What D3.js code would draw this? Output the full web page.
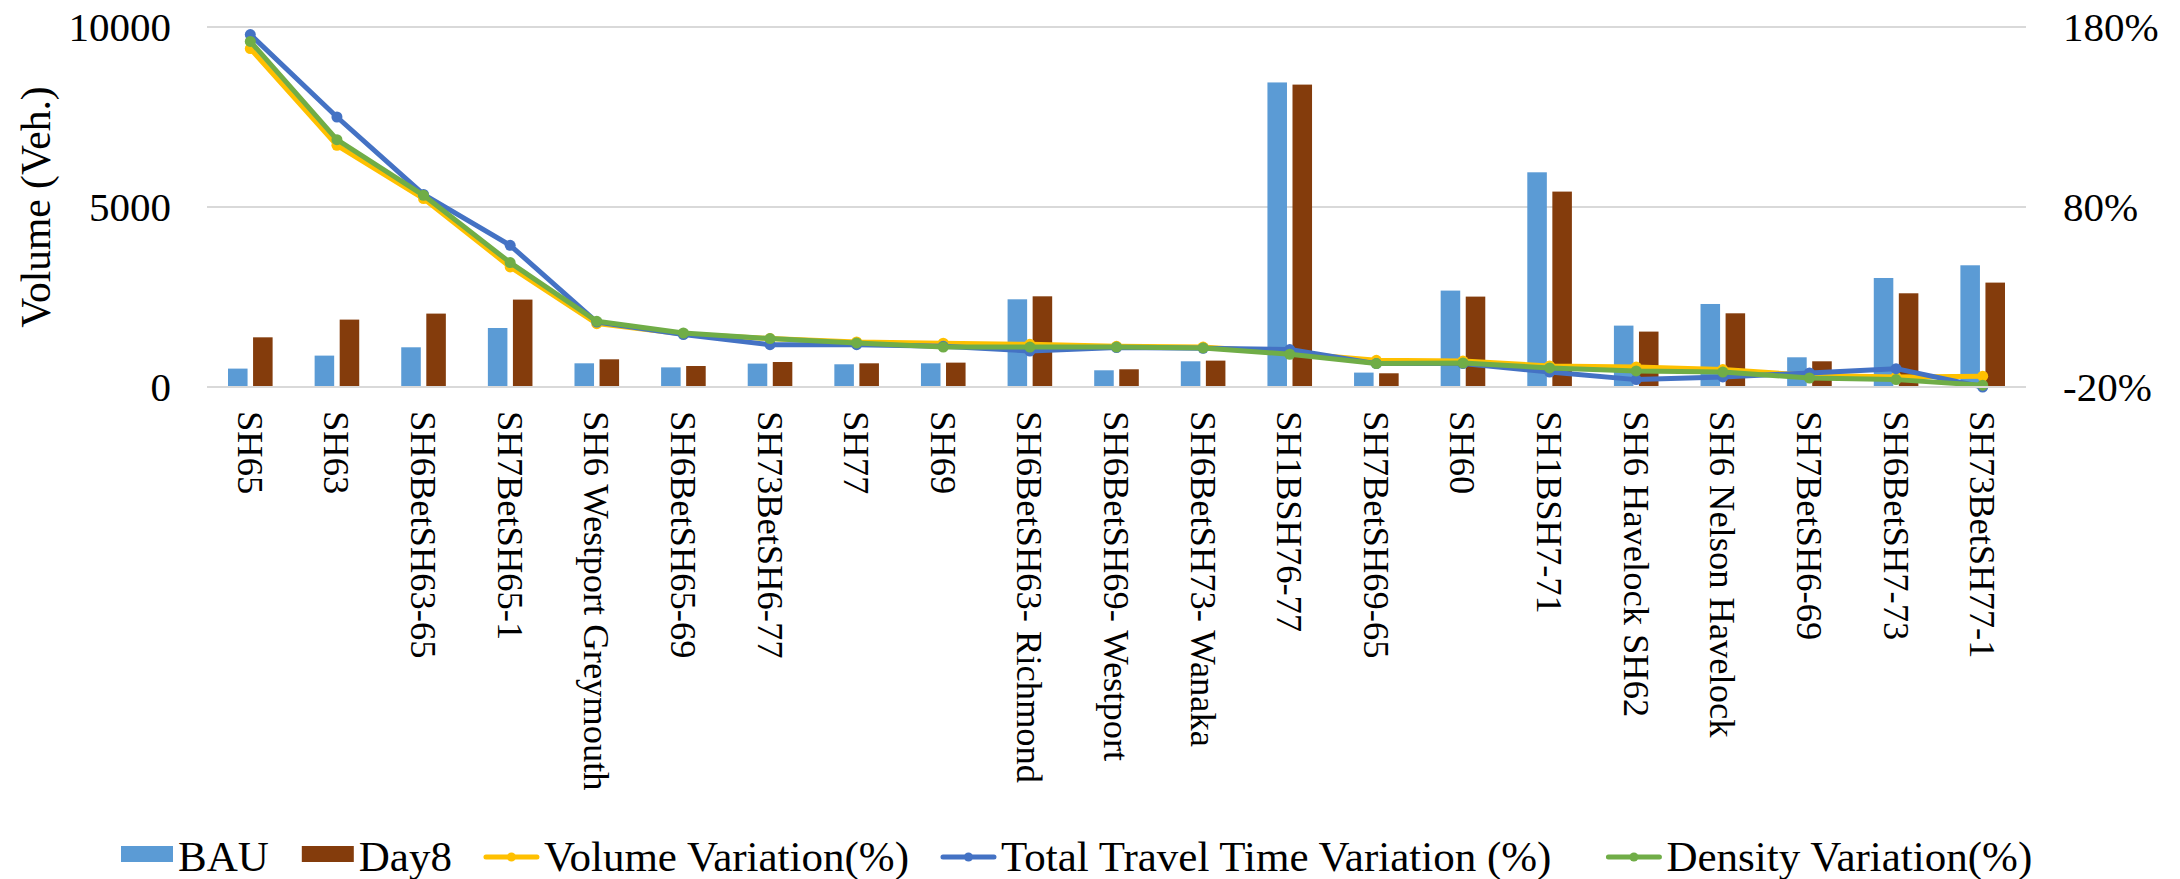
<!DOCTYPE html>
<html>
<head>
<meta charset="utf-8">
<script src="https://cdn.jsdelivr.net/npm/d3@7"></script>
<style>
  html, body { margin: 0; padding: 0; background: #fff; }
  svg, svg text { font-family: 'Liberation Serif', 'Times New Roman', Times, 'DejaVu Serif', serif !important; }
</style>
</head>
<body>
<svg id="chart" width="2180" height="879"></svg>
<script>
const categories = ["SH65","SH63","SH6BetSH63-65","SH7BetSH65-1","SH6 Westport Greymouth","SH6BetSH65-69","SH73BetSH6-77","SH77","SH69","SH6BetSH63- Richmond","SH6BetSH69- Westport","SH6BetSH73- Wanaka","SH1BSH76-77","SH7BetSH69-65","SH60","SH1BSH7-71","SH6 Havelock SH62","SH6 Nelson Havelock","SH7BetSH6-69","SH6BetSH7-73","SH73BetSH77-1"];
const bau  = [511, 872, 1103, 1639, 658, 545, 650, 631, 658, 2436, 464, 714, 8460, 400, 2678, 5964, 1705, 2306, 825, 3028, 3381];
const day8 = [1380, 1872, 2039, 2428, 769, 583, 694, 658, 677, 2519, 492, 733, 8400, 381, 2511, 5428, 1539, 2047, 714, 2603, 2900];
const volumeVar = [168, 114.3, 84.7, 46.7, 15.2, 9.5, 6.9, 5, 4.3, 3.7, 2.6, 2.2, -1.1, -5.2, -5.6, -8.3, -8.9, -10.3, -13.5, -14.4, -14];
const travelVar = [175.8, 130, 87, 58.7, 16.1, 9.1, 3.5, 3.5, 2.6, 0, 1.9, 1.5, 0.8, -7, -7, -11.7, -15.9, -14.4, -12.2, -9.8, -20];
const densityVar = [172, 117.4, 86.5, 49.1, 16.5, 10, 6.9, 4.5, 2.2, 2.2, 2.2, 1.7, -1.8, -7, -6.7, -9.4, -11.1, -11.7, -15, -15.9, -19];
const leftTicks = [0, 5000, 10000];
const rightTicks = [-20, 80, 180];
const barSeries = [{name: "BAU", values: bau, color: "#5B9BD5"}, {name: "Day8", values: day8, color: "#843C0C"}];
const lineSeries = [
  {name: "Volume Variation(%)", values: volumeVar, color: "#FFC000"},
  {name: "Total Travel Time Variation (%)", values: travelVar, color: "#4472C4"},
  {name: "Density Variation(%)", values: densityVar, color: "#70AD47"}
];

const FONT = "'Liberation Serif', 'Times New Roman', Times, serif";
const svg = d3.select("#chart");
const plot = {left: 207, right: 2026, top: 27, bottom: 387};

const x = d3.scaleBand().domain(categories).range([plot.left, plot.right]).padding(0);
const xInner = d3.scaleBand().domain(barSeries.map(d => d.name)).range([-22.3, 22.3]).paddingInner(0.22);
const yL = d3.scaleLinear().domain([0, 10000]).range([plot.bottom, plot.top]);
const yR = d3.scaleLinear().domain([-20, 180]).range([plot.bottom, plot.top]);

// gridlines
svg.append("g").selectAll("line").data(leftTicks).join("line")
  .attr("x1", plot.left).attr("x2", plot.right)
  .attr("y1", d => yL(d)).attr("y2", d => yL(d))
  .attr("stroke", "#D9D9D9").attr("stroke-width", 2);

// left axis
const leftAxis = d3.axisLeft(yL).tickValues(leftTicks).tickSize(0).tickPadding(36).tickFormat(d3.format("d"));
const gL = svg.append("g").attr("transform", `translate(${plot.left},0)`).call(leftAxis);
gL.attr("font-family", null);
gL.select(".domain").remove();
gL.selectAll("text").attr("font-size", 41).attr("fill", "#000").style("font-family", FONT);

// right axis
const rightAxis = d3.axisRight(yR).tickValues(rightTicks).tickSize(0).tickPadding(37).tickFormat(d => d + "%");
const gR = svg.append("g").attr("transform", `translate(${plot.right},0)`).call(rightAxis);
gR.attr("font-family", null);
gR.select(".domain").remove();
gR.selectAll("text").attr("font-size", 41).attr("fill", "#000").style("font-family", FONT);

// y axis title
svg.append("text")
  .attr("transform", `translate(36,${(plot.top + plot.bottom) / 2}) rotate(-90)`)
  .attr("text-anchor", "middle").attr("dominant-baseline", "central")
  .attr("font-size", 41.5).style("font-family", FONT).text("Volume (Veh.)");

// bars
barSeries.forEach(s => {
  svg.append("g").selectAll("rect").data(s.values).join("rect")
    .attr("x", (d, i) => x(categories[i]) + x.bandwidth() / 2 + xInner(s.name))
    .attr("width", xInner.bandwidth())
    .attr("y", d => yL(d))
    .attr("height", d => yL(0) - yL(d))
    .attr("fill", s.color);
});

// category labels
const bottomAxis = d3.axisBottom(x).tickSize(0).tickPadding(0);
const gB = svg.append("g").attr("transform", `translate(0,${plot.bottom})`).call(bottomAxis);
gB.attr("font-family", null);
gB.select(".domain").remove();
gB.selectAll("text")
  .attr("font-size", 36.5).attr("fill", "#000").style("font-family", FONT)
  .attr("text-anchor", "start").attr("dy", null).attr("y", null)
  .attr("dominant-baseline", "central")
  .attr("transform", "translate(0,24) rotate(90)");

// lines
const lineGen = d3.line().x((d, i) => x(categories[i]) + x.bandwidth() / 2).y(d => yR(d));
lineSeries.forEach(s => {
  const g = svg.append("g");
  g.append("path").datum(s.values).attr("d", lineGen)
    .attr("fill", "none").attr("stroke", s.color).attr("stroke-width", 5)
    .attr("stroke-linejoin", "round").attr("stroke-linecap", "round");
  g.selectAll("circle").data(s.values).join("circle")
    .attr("cx", (d, i) => x(categories[i]) + x.bandwidth() / 2)
    .attr("cy", d => yR(d)).attr("r", 5.5).attr("fill", s.color);
});

// bottom baseline
svg.append("line").attr("x1", plot.left).attr("x2", plot.right)
  .attr("y1", yL(0)).attr("y2", yL(0)).attr("stroke", "#D9D9D9").attr("stroke-width", 2);

// legend
const legendItems = [
  {name: "BAU", type: "rect", color: "#5B9BD5", gapAfter: 33},
  {name: "Day8", type: "rect", color: "#843C0C", gapAfter: 32},
  {name: lineSeries[0].name, type: "line", color: lineSeries[0].color, gapAfter: 32},
  {name: lineSeries[1].name, type: "line", color: lineSeries[1].color, gapAfter: 55},
  {name: lineSeries[2].name, type: "line", color: lineSeries[2].color, gapAfter: 0}
];
const legend = svg.append("g");
const ly = 857;
let lx = 121;
legendItems.forEach(it => {
  const g = legend.append("g");
  if (it.type === "rect") {
    g.append("rect").attr("x", lx).attr("y", ly - 11).attr("width", 52).attr("height", 16).attr("fill", it.color);
    lx += 57;
  } else {
    g.append("line").attr("x1", lx + 2).attr("x2", lx + 53).attr("y1", ly).attr("y2", ly)
      .attr("stroke", it.color).attr("stroke-width", 5).attr("stroke-linecap", "round");
    g.append("circle").attr("cx", lx + 27.5).attr("cy", ly).attr("r", 4.5).attr("fill", it.color);
    lx += 60;
  }
  const t = g.append("text").attr("x", lx).attr("y", 871).attr("font-size", 43).attr("fill", "#000")
    .style("font-family", FONT).text(it.name);
  lx += t.node().getComputedTextLength() + it.gapAfter;
});
</script>
</body>
</html>
